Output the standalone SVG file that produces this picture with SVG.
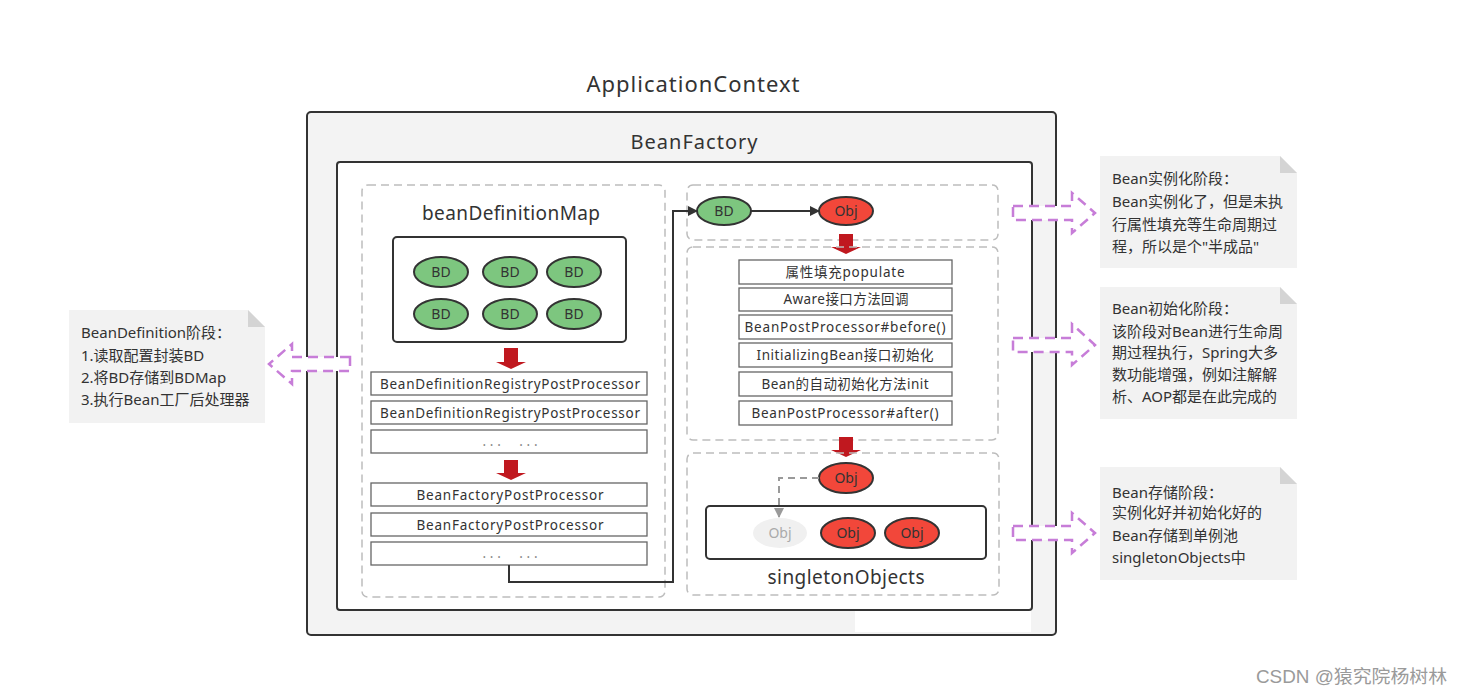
<svg xmlns="http://www.w3.org/2000/svg" width="1462" height="694" viewBox="0 0 1462 694">
<defs>
<style>
text{font-family:"Noto Sans","Noto Sans CJK SC",sans-serif;fill:#333}
.title{font-size:22px;text-anchor:middle}
.sub{font-size:19px;text-anchor:middle}
.dash{fill:none;stroke:#bdbdbd;stroke-width:1.5;stroke-dasharray:8 5}
.box{fill:#fff;stroke:#666;stroke-width:1.3}
.bt{font-size:13.5px;text-anchor:middle}
.dots{font-size:13.5px;text-anchor:middle;fill:#888}
.bd{fill:#7dc67f;stroke:#333;stroke-width:2}
.obj{fill:#f2473a;stroke:#333;stroke-width:2}
.et{font-size:14px;text-anchor:middle}
.red{fill:#c0181f}
.purple{fill:#fff;stroke:#c77dd8;stroke-width:2.5;stroke-dasharray:10 6}
.note{fill:#f2f2f2}
.fold{fill:#d4d4d4}
.nt{font-size:15px}
.conn{fill:none;stroke:#333;stroke-width:2}
</style>
<marker id="ah" markerWidth="10" markerHeight="10" refX="9" refY="5" orient="auto" markerUnits="userSpaceOnUse">
<path d="M0,0 L10,5 L0,10 Z" fill="#333"/>
</marker>
<marker id="ahg" markerWidth="10" markerHeight="10" refX="5" refY="9" orient="0" markerUnits="userSpaceOnUse">
<path d="M0,0 L10,0 L5,10 Z" fill="#9a9a9a"/>
</marker>
</defs>
<rect width="1462" height="694" fill="#fff"/>

<g id="applicationContext">
<text class="title" x="693" y="92" textLength="213" lengthAdjust="spacing">ApplicationContext</text>
<rect x="307" y="112" width="749" height="523" rx="4" fill="#f3f3f3" stroke="#333" stroke-width="2"/>
<text class="title" x="694" y="149" style="font-size:20px" textLength="127" lengthAdjust="spacing">BeanFactory</text>
</g>

<g id="beanFactory">
<rect x="337" y="162" width="695" height="448" rx="3" fill="#fff" stroke="#333" stroke-width="2"/>
<rect x="855" y="611" width="176" height="21" fill="#fff"/>
</g>

<g id="beanDefinitionMap">
<rect class="dash" x="362" y="185" width="303" height="412" rx="6"/>
<text class="sub" x="511" y="220" textLength="178" lengthAdjust="spacing">beanDefinitionMap</text>
<rect x="393" y="237" width="233" height="105" rx="4" fill="#fff" stroke="#333" stroke-width="2"/>
<ellipse class="bd" cx="441" cy="272" rx="27" ry="15"/><text class="et" x="441" y="277">BD</text>
<ellipse class="bd" cx="510" cy="272" rx="27" ry="15"/><text class="et" x="510" y="277">BD</text>
<ellipse class="bd" cx="574" cy="272" rx="27" ry="15"/><text class="et" x="574" y="277">BD</text>
<ellipse class="bd" cx="441" cy="314" rx="27" ry="15"/><text class="et" x="441" y="319">BD</text>
<ellipse class="bd" cx="510" cy="314" rx="27" ry="15"/><text class="et" x="510" y="319">BD</text>
<ellipse class="bd" cx="574" cy="314" rx="27" ry="15"/><text class="et" x="574" y="319">BD</text>
<path class="red" d="M504,348 H518 V362 H526 L511,369 L496,362 H504 Z"/>
<rect class="box" x="371" y="372" width="276" height="23"/><text class="bt" x="510" y="389" textLength="260" lengthAdjust="spacing">BeanDefinitionRegistryPostProcessor</text>
<rect class="box" x="371" y="401" width="276" height="23"/><text class="bt" x="510" y="418" textLength="260" lengthAdjust="spacing">BeanDefinitionRegistryPostProcessor</text>
<rect class="box" x="371" y="430" width="276" height="23"/><text class="dots" x="510" y="446" textLength="55" lengthAdjust="spacing">...&#160;&#160;...</text>
<path class="red" d="M504,460 H518 V473 H526 L511,480 L496,473 H504 Z"/>
<rect class="box" x="371" y="483" width="276" height="23"/><text class="bt" x="510" y="500" textLength="187" lengthAdjust="spacing">BeanFactoryPostProcessor</text>
<rect class="box" x="371" y="513" width="276" height="23"/><text class="bt" x="510" y="530" textLength="187" lengthAdjust="spacing">BeanFactoryPostProcessor</text>
<rect class="box" x="371" y="542" width="276" height="23"/><text class="dots" x="510" y="558" textLength="55" lengthAdjust="spacing">...&#160;&#160;...</text>
</g>

<g id="instantiation">
<rect class="dash" x="687" y="185" width="311" height="55" rx="6"/>
<ellipse class="bd" cx="724" cy="211" rx="27" ry="14"/><text class="et" x="724" y="216">BD</text>
<ellipse class="obj" cx="846" cy="211" rx="27" ry="14"/><text class="et" x="846" y="216">Obj</text>
<path class="red" d="M839,234 H853 V247 H861 L846,254 L831,247 H839 Z"/>
</g>

<g id="initialization">
<rect class="dash" x="687" y="247" width="311" height="193" rx="6"/>
<rect class="box" x="739" y="260" width="213" height="24"/><text class="bt" x="845" y="277" textLength="119" lengthAdjust="spacing">属性填充populate</text>
<rect class="box" x="739" y="288" width="213" height="23"/><text class="bt" x="846" y="304" textLength="125" lengthAdjust="spacing">Aware接口方法回调</text>
<rect class="box" x="739" y="315" width="213" height="24"/><text class="bt" x="845" y="332" textLength="201" lengthAdjust="spacing">BeanPostProcessor#before()</text>
<rect class="box" x="739" y="343" width="213" height="24"/><text class="bt" x="845" y="360" textLength="177" lengthAdjust="spacing">InitializingBean接口初始化</text>
<rect class="box" x="739" y="372" width="213" height="24"/><text class="bt" x="845" y="389" textLength="167" lengthAdjust="spacing">Bean的自动初始化方法init</text>
<rect class="box" x="739" y="401" width="213" height="24"/><text class="bt" x="845" y="418" textLength="187" lengthAdjust="spacing">BeanPostProcessor#after()</text>
<path class="red" d="M839,437 H853 V450 H861 L846,457 L831,450 H839 Z"/>
</g>

<g id="singletonObjects">
<rect class="dash" x="687" y="453" width="312" height="142" rx="6"/>
<ellipse class="obj" cx="846" cy="478" rx="27" ry="15"/><text class="et" x="846" y="483">Obj</text>
<rect x="706" y="506" width="280" height="53" rx="4" fill="#fff" stroke="#333" stroke-width="2"/>
<ellipse cx="780" cy="533" rx="27" ry="15" fill="#f0f0f0"/><text class="et" x="780" y="538" style="fill:#aaa">Obj</text>
<ellipse class="obj" cx="848" cy="533" rx="27" ry="15"/><text class="et" x="848" y="538">Obj</text>
<ellipse class="obj" cx="912" cy="533" rx="27" ry="15"/><text class="et" x="912" y="538">Obj</text>
<text class="sub" x="846" y="584" textLength="157" lengthAdjust="spacing">singletonObjects</text>
</g>

<g id="connectors">
<path class="conn" d="M509,565 V582 H673 V211 H697" marker-end="url(#ah)"/>
<path class="conn" d="M751,211 H819" marker-end="url(#ah)"/>
<path d="M819,478 H779 V517" fill="none" stroke="#9a9a9a" stroke-width="2" stroke-dasharray="7 5" marker-end="url(#ahg)"/>
<path class="purple" d="M350,357 H292 V344 L269,364 L292,384 V371 H350 Z"/>
<path class="purple" d="M1013,206 H1072 V193 L1095,213 L1072,233 V220 H1013 Z"/>
<path class="purple" d="M1013,338 H1072 V324 L1095,345 L1072,365 V352 H1013 Z"/>
<path class="purple" d="M1013,526 H1072 V513 L1095,533 L1072,553 V540 H1013 Z"/>
</g>

<g id="noteBeanDefinition">
<path class="note" d="M69,310 H248 L265,327 V423 H69 Z"/>
<path class="fold" d="M248,310 V327 H265 Z"/>
<text class="nt" x="81" y="338">BeanDefinition阶段：</text>
<text class="nt" x="81" y="361">1.读取配置封装BD</text>
<text class="nt" x="81" y="383">2.将BD存储到BDMap</text>
<text class="nt" x="81" y="405">3.执行Bean工厂后处理器</text>
</g>

<g id="noteInstantiation">
<path class="note" d="M1100,156 H1280 L1297,173 V268 H1100 Z"/>
<path class="fold" d="M1280,156 V173 H1297 Z"/>
<text class="nt" x="1112" y="184">Bean实例化阶段：</text>
<text class="nt" x="1112" y="207">Bean实例化了，但是未执</text>
<text class="nt" x="1112" y="230">行属性填充等生命周期过</text>
<text class="nt" x="1112" y="252">程，所以是个"半成品"</text>
</g>

<g id="noteInitialization">
<path class="note" d="M1100,287 H1280 L1297,304 V419 H1100 Z"/>
<path class="fold" d="M1280,287 V304 H1297 Z"/>
<text class="nt" x="1112" y="314">Bean初始化阶段：</text>
<text class="nt" x="1112" y="337">该阶段对Bean进行生命周</text>
<text class="nt" x="1112" y="358">期过程执行，Spring大多</text>
<text class="nt" x="1112" y="380">数功能增强，例如注解解</text>
<text class="nt" x="1112" y="402">析、AOP都是在此完成的</text>
</g>

<g id="noteStorage">
<path class="note" d="M1100,467 H1280 L1297,484 V580 H1100 Z"/>
<path class="fold" d="M1280,467 V484 H1297 Z"/>
<text class="nt" x="1112" y="498">Bean存储阶段：</text>
<text class="nt" x="1112" y="518">实例化好并初始化好的</text>
<text class="nt" x="1112" y="541">Bean存储到单例池</text>
<text class="nt" x="1112" y="563">singletonObjects中</text>
</g>

<text x="1256" y="683" textLength="191" lengthAdjust="spacingAndGlyphs" style="font-size:18px;fill:#9a9a9a;font-family:'Liberation Sans','Noto Sans CJK SC',sans-serif">CSDN @猿究院杨树林</text>
</svg>
